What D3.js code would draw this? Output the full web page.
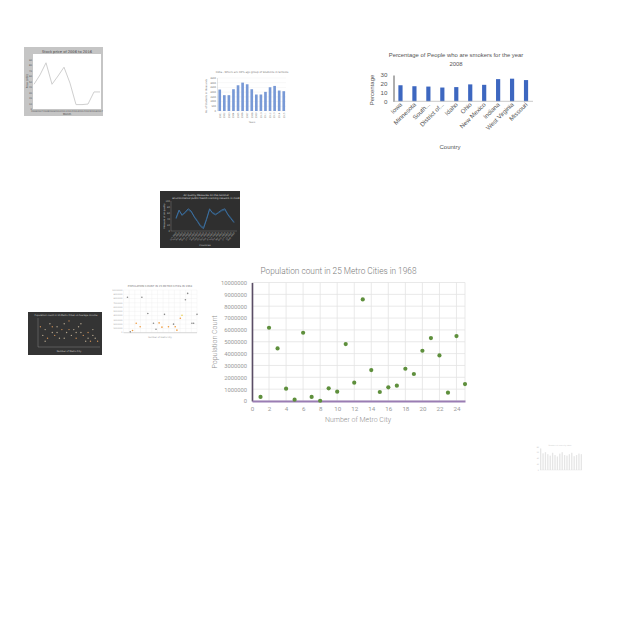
<!DOCTYPE html>
<html><head><meta charset="utf-8">
<script src="https://cdn.jsdelivr.net/npm/d3@7"></script>
<style>html,body{margin:0;padding:0;background:#fff;}svg{display:block;}</style>
</head><body>
<svg id="c" width="640" height="640"></svg>
<script>
// ---------- DATA ----------
// Main chart: population of 25 metro cities in 1968
const metroCity = [1,2,3,4,5,6,7,8,9,10,11,12,13,14,15,16,17,18,19,20,21,22,23,24,25];
const population = [340000,6180000,4440000,1040000,110000,5760000,340000,20000,1070000,790000,4800000,1550000,8570000,2610000,760000,1150000,1290000,2720000,2280000,4240000,5310000,3850000,700000,5480000,1430000];
const popTicks = [0,1000000,2000000,3000000,4000000,5000000,6000000,7000000,8000000,9000000,10000000];
const cityTicks = [0,2,4,6,8,10,12,14,16,18,20,22,24];

// Smokers chart
const smokerStates = ["Iowa","Minnesota","South...","District of...","Idaho","Ohio","New Mexico","Indiana","West Virginia","Missouri"];
const smokerPct = [18.3,17.2,16.8,15.7,16.2,19.3,18.8,25.3,25.8,24.2];
const smokerTicks = [0,10,20,30];

// Stock thumbnail (grey frame)
const stockMonths = ["J","F","M","A","M","J","J","A","S","O","N","D"];
const stockPrice = [45,62,84,45,60,76,47,8,8,9,31,31];

// Blue bar thumbnail
const barYears = ["2001","2002","2003","2004","2005","2006","2007","2008","2009","2010","2011","2012","2013","2014","2015"];
const barValues = [2275,1680,1680,2310,2730,3010,2835,2310,1750,1750,2030,2520,2660,2170,2100];

// Dark line thumbnail
const airMonths = ["Jan","Feb","Mar","Apr","May","Jun","Jul","Aug","Sep","Oct","Nov","Dec","Jan2","Feb2","Mar2","Apr2","May2","Jun2","Jul2","Aug2"];
const airSeriesA = [43,70,52,63,74,66,46,32,16,8,38,74,59,54,63,70,74,54,41,28];
const airSeriesB = [40,66,55,60,70,63,49,35,19,12,41,70,62,57,60,67,70,57,44,31];

// Light scatter thumbnail
const lsCity = [1.4,6.5,22.7,21.9,8.6,14.5,26,4.5,10.6,20.7,20.1,12.6,17.7,13.6,11.5,15.9,18.3,3.2,2.4,24.2,24.8,18.9,5.9];
const lsPop = [8.3,8.3,9.2,7.7,4.5,4.3,4.3,2.2,2.2,4.1,3.4,2.3,2.0,1.3,0.8,1.4,1.4,0.5,0.2,2.2,2.2,0.6,1.4];
const lsGroup = ["g","g","g","g","g","g","g","o","g","y","o","o","g","o","g","o","o","o","g","g","g","o","o"];

// Dark scatter thumbnail
const dsX = [1,2,3,4,5,6,7,8,9,10,11,12,13,14,15,16,17,18,19,20,21,22,23,24,25,3,8,13,18,23,6,11,16,21];
const dsY = [7,4,6,3,8,5,4,7,3,6,8,5,9,4,6,3,7,5,4,2,3,2,4,3,2,2,5,6,8,6,7,3,5,5];

// Tiny bar thumbnail
const tinyValues = [75,58,62,55,50,60,52,47,57,62,52,50,55,60,48,52,57,55];

// ---------- DRAW ----------
const svg = d3.select("#c");
svg.append("rect").attr("width",640).attr("height",640).attr("fill","#fff");

// ===== Main scatter =====
(function(){
  const g = svg.append("g");
  const x = d3.scaleLinear().domain([0,25]).range([252,465]);
  const y = d3.scaleLinear().domain([0,10000000]).range([401,282.5]);
  const font = "Roboto, sans-serif";
  g.selectAll(".hg").data(popTicks).join("line")
    .attr("x1",x(0)).attr("x2",x(25)).attr("y1",d=>y(d)).attr("y2",d=>y(d))
    .attr("stroke","#e3e3e3").attr("stroke-width",0.8);
  g.selectAll(".vg").data(cityTicks.concat([25])).join("line")
    .attr("x1",d=>x(d)).attr("x2",d=>x(d)).attr("y1",y(10000000)).attr("y2",y(0))
    .attr("stroke","#e3e3e3").attr("stroke-width",0.8);
  const ya = g.append("g").attr("transform",`translate(${x(0)},0)`)
    .call(d3.axisLeft(y).tickValues(popTicks).tickSize(0).tickPadding(5).tickFormat(d3.format("d")));
  ya.select(".domain").attr("stroke","#5a4d66").attr("stroke-width",1.6);
  ya.selectAll("text").attr("font-family",font).attr("font-size",5.8).attr("fill","#9a9a9a");
  const xa = g.append("g").attr("transform",`translate(0,${y(0)})`)
    .call(d3.axisBottom(x).tickValues(cityTicks).tickSize(0).tickPadding(6).tickFormat(d3.format("d")));
  xa.select(".domain").attr("stroke","#9a7db3").attr("stroke-width",2);
  xa.selectAll("text").attr("font-family",font).attr("font-size",6.2).attr("fill","#9a9a9a");
  g.selectAll(".pt").data(population).join("circle")
    .attr("cx",(d,i)=>x(metroCity[i])).attr("cy",d=>y(d)).attr("r",2.1)
    .attr("fill","#5e8f3c");
  g.append("text").attr("x",338.5).attr("y",273.5).attr("text-anchor","middle")
    .attr("font-family",font).attr("font-weight",300).attr("font-size",8.3).attr("fill","#7a7a7a")
    .text("Population count in 25 Metro Cities in 1968");
  g.append("text").attr("x",358).attr("y",422).attr("text-anchor","middle")
    .attr("font-family",font).attr("font-weight",300).attr("font-size",7).attr("fill","#8f8f8f")
    .text("Number of Metro City");
  g.append("text").attr("transform","translate(217,342) rotate(-90)").attr("text-anchor","middle")
    .attr("font-family",font).attr("font-weight",300).attr("font-size",7).attr("fill","#8f8f8f")
    .text("Population Count");
})();

// ===== Smokers bar chart =====
(function(){
  const g = svg.append("g");
  const font = "'Liberation Sans', Arial, sans-serif";
  const x = d3.scaleBand().domain(smokerStates).range([393.5,533]).paddingInner(0.7).paddingOuter(0.35);
  const y = d3.scaleLinear().domain([0,30]).range([101.3,75]);
  g.selectAll(".b").data(smokerPct).join("rect")
    .attr("x",(d,i)=>x(smokerStates[i])).attr("width",x.bandwidth())
    .attr("y",d=>y(d)).attr("height",d=>y(0)-y(d)).attr("fill","#3d67c0");
  const ya = g.append("g").attr("transform","translate(393.5,0)")
    .call(d3.axisLeft(y).tickValues(smokerTicks).tickSize(0).tickPadding(6));
  ya.select(".domain").attr("stroke","#333").attr("stroke-width",0.8);
  ya.selectAll("text").attr("font-family",font).attr("font-size",6.2).attr("fill","#555");
  g.append("line").attr("x1",393.5).attr("x2",533).attr("y1",101.3).attr("y2",101.3)
    .attr("stroke","#bbb").attr("stroke-width",0.8);
  g.selectAll(".xl").data(smokerStates).join("text")
    .attr("transform",d=>`translate(${x(d)+x.bandwidth()/2+2},${105}) rotate(-45)`)
    .attr("text-anchor","end").attr("font-family",font).attr("font-size",6.2)
    .attr("fill","#555").text(d=>d);
  g.append("text").attr("x",456).attr("y",56.5).attr("text-anchor","middle")
    .attr("font-family",font).attr("font-size",5.9).attr("fill","#555")
    .text("Percentage of People who are smokers for the year");
  g.append("text").attr("x",456).attr("y",66).attr("text-anchor","middle")
    .attr("font-family",font).attr("font-size",5.9).attr("fill","#555").text("2008");
  g.append("text").attr("x",450).attr("y",149).attr("text-anchor","middle")
    .attr("font-family",font).attr("font-size",6).attr("fill","#555").text("Country");
  g.append("text").attr("transform","translate(374,90) rotate(-90)").attr("text-anchor","middle")
    .attr("font-family",font).attr("font-size",6).attr("fill","#555").text("Percentage");
})();

// ===== Stock line thumbnail =====
(function(){
  const g = svg.append("g");
  g.append("rect").attr("x",24).attr("y",47).attr("width",79).attr("height",69).attr("fill","#c5c5c5");
  g.append("rect").attr("x",33).attr("y",54).attr("width",68).attr("height",55).attr("fill","#fff");
  const x = d3.scalePoint().domain(d3.range(stockMonths.length)).range([34,100]);
  const y = d3.scaleLinear().domain([0,100]).range([109,54]);
  g.append("path").datum(stockPrice)
    .attr("d",d3.line().x((d,i)=>x(i)).y(d=>y(d)))
    .attr("fill","none").attr("stroke","#cfcfcf").attr("stroke-width",1);
  g.append("text").attr("x",67).attr("y",52.5).attr("text-anchor","middle")
    .attr("font-family","DejaVu Sans").attr("font-size",3.6).attr("fill","#444")
    .text("Stock price of 2006 to 2016");
  g.selectAll(".yt").data([0,10,20,30,40,50,60,70,80,90]).join("text")
    .attr("x",32).attr("y",d=>y(d)+1).attr("text-anchor","end")
    .attr("font-family","DejaVu Sans").attr("font-size",2.4).attr("fill","#555").text(d=>d);
  g.selectAll(".xt").data(stockMonths).join("text")
    .attr("x",(d,i)=>x(i)).attr("y",111.5).attr("text-anchor","middle")
    .attr("font-family","DejaVu Sans").attr("font-size",2.4).attr("fill","#555").text((d,i)=>2006+i);
  g.append("text").attr("x",67).attr("y",114.5).attr("text-anchor","middle")
    .attr("font-family","DejaVu Sans").attr("font-size",2.6).attr("fill","#444").text("Month");
  g.append("text").attr("transform","translate(27.5,81) rotate(-90)").attr("text-anchor","middle")
    .attr("font-family","DejaVu Sans").attr("font-size",2.6).attr("fill","#444").text("Price (USD)");
})();

// ===== Blue bar thumbnail =====
(function(){
  const g = svg.append("g");
  const x = d3.scaleBand().domain(barYears).range([217.5,286]).paddingInner(0.42).paddingOuter(0.2);
  const y = d3.scaleLinear().domain([0,3500]).range([111,78]);
  g.selectAll(".gl").data([0,500,1000,1500,2000,2500,3000,3500]).join("line")
    .attr("x1",217.5).attr("x2",286).attr("y1",d=>y(d)).attr("y2",d=>y(d))
    .attr("stroke","#eee").attr("stroke-width",0.4);
  g.selectAll(".b").data(barValues).join("rect")
    .attr("x",(d,i)=>x(barYears[i])).attr("width",x.bandwidth())
    .attr("y",d=>y(d)).attr("height",d=>y(0)-y(d)).attr("fill","#7899d6");
  g.append("line").attr("x1",217.5).attr("x2",217.5).attr("y1",78).attr("y2",111).attr("stroke","#bbb").attr("stroke-width",0.4);
  g.selectAll(".yt").data([0,500,1000,1500,2000,2500,3000,3500]).join("text")
    .attr("x",216).attr("y",d=>y(d)+0.8).attr("text-anchor","end")
    .attr("font-family","DejaVu Sans").attr("font-size",2.3).attr("fill","#666").text(d=>d);
  g.selectAll(".xt").data(barYears).join("text")
    .attr("transform",d=>`translate(${x(d)+x.bandwidth()/2+0.8},112.5) rotate(-90)`)
    .attr("text-anchor","end").attr("font-family","DejaVu Sans").attr("font-size",2.3).attr("fill","#666").text(d=>d);
  g.append("text").attr("x",252).attr("y",72.5).attr("text-anchor","middle")
    .attr("font-family","DejaVu Sans").attr("font-size",2.6).attr("fill","#777")
    .text("India - Where are 30% age group of Students in Schools");
  g.append("text").attr("transform","translate(207,96) rotate(-90)").attr("text-anchor","middle")
    .attr("font-family","DejaVu Sans").attr("font-size",2.4).attr("fill","#777").text("No. of Students in thousands");
  g.append("text").attr("x",252).attr("y",123).attr("text-anchor","middle")
    .attr("font-family","DejaVu Sans").attr("font-size",2.4).attr("fill","#777").text("Years");
})();

// ===== Dark line thumbnail =====
(function(){
  const g = svg.append("g");
  g.append("rect").attr("x",160).attr("y",191).attr("width",80).attr("height",57).attr("fill","#2f2f2f");
  const x = d3.scalePoint().domain(airMonths).range([176,234]);
  const y = d3.scaleLinear().domain([0,100]).range([231,201]);
  g.append("line").attr("x1",171).attr("x2",171).attr("y1",201).attr("y2",231).attr("stroke","#888").attr("stroke-width",0.4);
  g.append("line").attr("x1",171).attr("x2",237).attr("y1",231).attr("y2",231).attr("stroke","#888").attr("stroke-width",0.4);
  g.selectAll(".yt").data([0,20,40,60,80,100]).join("text")
    .attr("x",170).attr("y",d=>y(d)+0.8).attr("text-anchor","end")
    .attr("font-family","DejaVu Sans").attr("font-size",2.3).attr("fill","#bbb").text(d=>d);
  g.append("path").datum(airSeriesB).attr("d",d3.line().x((d,i)=>x(airMonths[i])).y(d=>y(d)))
    .attr("fill","none").attr("stroke","#2a5478").attr("stroke-width",0.9);
  g.append("path").datum(airSeriesA).attr("d",d3.line().x((d,i)=>x(airMonths[i])).y(d=>y(d)))
    .attr("fill","none").attr("stroke","#3f74a6").attr("stroke-width",0.9);
  g.selectAll(".xt").data(airMonths).join("text")
    .attr("transform",d=>`translate(${x(d)+1},233) rotate(-50)`).attr("text-anchor","end")
    .attr("font-family","DejaVu Sans").attr("font-size",2.2).attr("fill","#aaa").text(d=>d.replace("2","")+" 2008");
  g.append("text").attr("x",206).attr("y",195.5).attr("text-anchor","middle")
    .attr("font-family","DejaVu Sans").attr("font-size",2.5).attr("fill","#ddd")
    .text("Air quality Measures on the national");
  g.append("text").attr("x",206).attr("y",198.8).attr("text-anchor","middle")
    .attr("font-family","DejaVu Sans").attr("font-size",2.5).attr("fill","#ddd")
    .text("environmental public health tracking network in 2008");
  g.append("text").attr("transform","translate(165,216) rotate(-90)").attr("text-anchor","middle")
    .attr("font-family","DejaVu Sans").attr("font-size",2.3).attr("fill","#ccc").text("Measure of air quality");
  g.append("text").attr("x",205).attr("y",246).attr("text-anchor","middle")
    .attr("font-family","DejaVu Sans").attr("font-size",2.4).attr("fill","#ccc").text("Countries");
})();

// ===== Dark scatter thumbnail =====
(function(){
  const g = svg.append("g");
  g.append("rect").attr("x",28).attr("y",312).attr("width",74).attr("height",43).attr("fill","#343434");
  const x = d3.scaleLinear().domain([0,26]).range([38,100]);
  const y = d3.scaleLinear().domain([0,10]).range([347,318]);
  g.append("line").attr("x1",38).attr("x2",38).attr("y1",318).attr("y2",347).attr("stroke","#999").attr("stroke-width",0.4);
  g.append("line").attr("x1",38).attr("x2",100).attr("y1",347).attr("y2",347).attr("stroke","#999").attr("stroke-width",0.4);
  g.selectAll(".p").data(dsY).join("circle")
    .attr("cx",(d,i)=>x(dsX[i])).attr("cy",d=>y(d)).attr("r",0.7)
    .attr("fill",(d,i)=>i%3===0?"#c98c55":"#b3a58e");
  g.append("text").attr("x",66).attr("y",316).attr("text-anchor","middle")
    .attr("font-family","DejaVu Sans").attr("font-size",2.3).attr("fill","#ccc")
    .text("Population count in 25 Metro Cities vs Average income");
  g.append("text").attr("x",69).attr("y",352).attr("text-anchor","middle")
    .attr("font-family","DejaVu Sans").attr("font-size",2.3).attr("fill","#ccc").text("Number of Metro City");
})();

// ===== Light scatter thumbnail =====
(function(){
  const g = svg.append("g");
  const x = d3.scaleLinear().domain([0,26]).range([123.5,197]);
  const y = d3.scaleLinear().domain([0,10]).range([332.7,290]);
  g.selectAll(".hg").data([0,1,2,3,4,5,6,7,8,9,10]).join("line")
    .attr("x1",123.5).attr("x2",197).attr("y1",d=>y(d)).attr("y2",d=>y(d)).attr("stroke","#eee").attr("stroke-width",0.4);
  g.selectAll(".vg").data([0,2,4,6,8,10,12,14,16,18,20,22,24,26]).join("line")
    .attr("x1",d=>x(d)).attr("x2",d=>x(d)).attr("y1",290).attr("y2",332.7).attr("stroke","#eee").attr("stroke-width",0.4);
  g.append("line").attr("x1",123.5).attr("x2",197).attr("y1",332.7).attr("y2",332.7).attr("stroke","#bbb").attr("stroke-width",0.5);
  g.selectAll(".p").data(lsPop).join("circle")
    .attr("cx",(d,i)=>x(lsCity[i])).attr("cy",d=>y(d)).attr("r",0.8)
    .attr("fill",(d,i)=>lsGroup[i]==="o"?"#ef9a3c":lsGroup[i]==="y"?"#e8cf4a":"#8a8a8a");
  g.selectAll(".yt").data([0,1,2,3,4,5,6,7,8,9,10]).join("text")
    .attr("x",122.5).attr("y",d=>y(d)+0.7).attr("text-anchor","end")
    .attr("font-family","DejaVu Sans").attr("font-size",2).attr("fill","#999").text(d=>d*1000000);
  g.append("text").attr("x",160).attr("y",287).attr("text-anchor","middle")
    .attr("font-family","DejaVu Sans").attr("font-size",2.6).attr("fill","#777")
    .text("POPULATION COUNT IN 25 METRO CITIES IN 1968");
  g.append("text").attr("x",160).attr("y",338).attr("text-anchor","middle")
    .attr("font-family","DejaVu Sans").attr("font-size",2.2).attr("fill","#999").text("Number of Metro City");
})();

// ===== Tiny bar thumbnail =====
(function(){
  const g = svg.append("g");
  const x = d3.scaleBand().domain(d3.range(tinyValues.length)).range([540,582]).paddingInner(0.45);
  const y = d3.scaleLinear().domain([0,80]).range([470,447]);
  g.selectAll(".b").data(tinyValues).join("rect")
    .attr("x",(d,i)=>x(i)).attr("width",x.bandwidth()).attr("y",d=>y(d)).attr("height",d=>y(0)-y(d)).attr("fill","#e6e6e6");
  g.append("line").attr("x1",540).attr("x2",582).attr("y1",470).attr("y2",470).attr("stroke","#ddd").attr("stroke-width",0.4);
  g.selectAll(".yt").data([0,20,40,60,80]).join("text")
    .attr("x",539).attr("y",d=>y(d)+0.6).attr("text-anchor","end")
    .attr("font-family","DejaVu Sans").attr("font-size",1.8).attr("fill","#bbb").text(d=>d);
  g.append("text").attr("x",560).attr("y",446).attr("text-anchor","middle")
    .attr("font-family","DejaVu Sans").attr("font-size",1.8).attr("fill","#ccc").text("Number of cases by state");
})();
</script>
</body></html>
